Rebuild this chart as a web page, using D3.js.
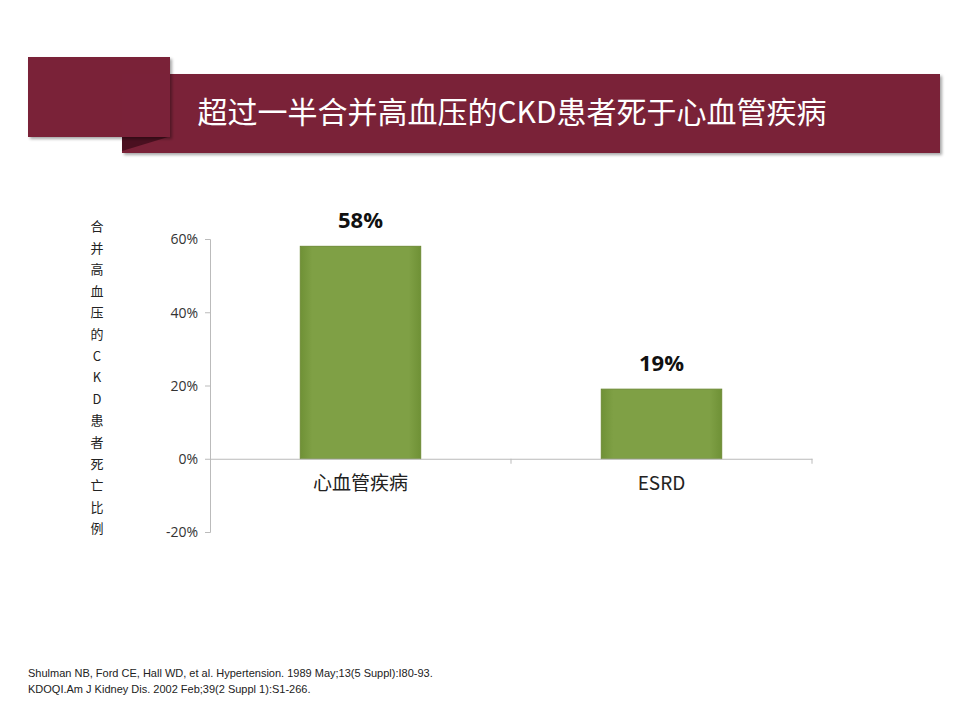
<!DOCTYPE html>
<html><head><meta charset="utf-8">
<script src="https://cdn.jsdelivr.net/npm/d3@7"></script>
<style>body{margin:0;background:#fff}svg{display:block}</style>
</head><body><svg id="viz" width="960" height="720"></svg>
<script>
var categories = ["心血管疾病", "ESRD"];
var values = [58, 19];
var yTicks = [-20, 0, 20, 40, 60];
var yLabel = "合并高血压的CKD患者死亡比例";
var title = "超过一半合并高血压的CKD患者死于心血管疾病";
var refs = ["Shulman NB, Ford CE, Hall WD, et al. Hypertension. 1989 May;13(5 Suppl):I80-93.",
    "KDOQI.Am J Kidney Dis. 2002 Feb;39(2 Suppl 1):S1-266."];

var svg = d3.select("#viz");
var cjk = "'Noto Sans CJK SC', 'Noto Sans', sans-serif";

// banner
var defs = svg.append("defs");
var f = defs.append("filter").attr("id", "sh").attr("x", "-5%").attr("y", "-10%").attr("width", "115%").attr("height", "130%");
f.append("feDropShadow").attr("dx", 2).attr("dy", 2).attr("stdDeviation", 1.5).attr("flood-opacity", 0.35);
svg.append("rect").attr("x", 122).attr("y", 74).attr("width", 818).attr("height", 79).attr("fill", "#7a2239").attr("filter", "url(#sh)");
svg.append("path").attr("d", "M122,137 L168,137 L122,151 Z").attr("fill", "#4a1020");
svg.append("rect").attr("x", 28).attr("y", 57).attr("width", 142).attr("height", 80).attr("fill", "#7a2239").attr("filter", "url(#sh)");
svg.append("rect").attr("x", 122).attr("y", 74).attr("width", 48).attr("height", 63).attr("fill", "#7a2239");
svg.append("text").attr("x", 512).attr("y", 123).attr("text-anchor", "middle")
    .style("font-family", cjk).style("font-size", "30px").attr("fill", "#fff").text(title);

// chart
var y = d3.scaleLinear().domain([-20, 60]).range([532, 239]);
var x = d3.scaleBand().domain(categories).range([210, 812]).paddingInner(0.6).paddingOuter(0.3);
var grad = defs.append("linearGradient").attr("id", "g").attr("x1", 0).attr("x2", 1);
grad.append("stop").attr("offset", "0").attr("stop-color", "#6f9136");
grad.append("stop").attr("offset", "0.1").attr("stop-color", "#7fa045");
grad.append("stop").attr("offset", "0.9").attr("stop-color", "#7fa045");
grad.append("stop").attr("offset", "1").attr("stop-color", "#6f9136");

var ya = svg.append("g").attr("transform", "translate(210,0)")
    .call(d3.axisLeft(y).tickValues(yTicks).tickSize(5).tickFormat(function (d) { return d + "%"; }));
ya.select(".domain").attr("stroke", "#bbb");
ya.selectAll(".tick line").attr("stroke", "#bbb");
ya.selectAll("text").style("font-family", "'Open Sans', sans-serif").style("font-size", "14px").attr("fill", "#333").attr("dy", "0.35em").attr("x", -12);

svg.selectAll(".bar").data(values).enter().append("rect")
    .attr("x", function (d, i) { return x(categories[i]); })
    .attr("y", function (d) { return y(d); })
    .attr("width", x.bandwidth())
    .attr("height", function (d) { return y(0) - y(d); })
    .attr("fill", "url(#g)").attr("stroke", "#6d8a35").attr("stroke-width", 1);

var xa = svg.append("g").attr("transform", "translate(0," + y(0) + ")")
    .call(d3.axisBottom(x).tickSize(5).tickSizeOuter(0));
xa.select(".domain").attr("stroke", "#bbb");
xa.selectAll(".tick line").attr("stroke", "#bbb").attr("transform", function () { return "translate(" + (x.step() / 2) + ",0)"; });
xa.selectAll("text").style("font-family", cjk).style("font-size", "19px").attr("fill", "#222").attr("y", 25).attr("dy", "0.35em");

svg.selectAll(".val").data(values).enter().append("text")
    .attr("x", function (d, i) { return x(categories[i]) + x.bandwidth() / 2; })
    .attr("y", function (d) { return y(d) - 18; })
    .attr("text-anchor", "middle").style("font-family", "'Open Sans', sans-serif").style("font-weight", "bold").style("font-size", "22px")
    .attr("fill", "#111").text(function (d) { return d + "%"; });

svg.append("g").selectAll("text").data(Array.from(yLabel)).enter().append("text")
    .attr("x", 97).attr("y", function (d, i) { return 231 + i * 21.6; })
    .attr("text-anchor", "middle").style("font-family", cjk).style("font-size", "13px").attr("fill", "#222")
    .text(function (d) { return d; });

svg.append("g").selectAll("text").data(refs).enter().append("text")
    .attr("x", 28).attr("y", function (d, i) { return 677 + i * 16; })
    .style("font-family", "'Liberation Sans', Arial, sans-serif").style("font-size", "11px").attr("fill", "#222")
    .text(function (d) { return d; });
</script></body></html>
